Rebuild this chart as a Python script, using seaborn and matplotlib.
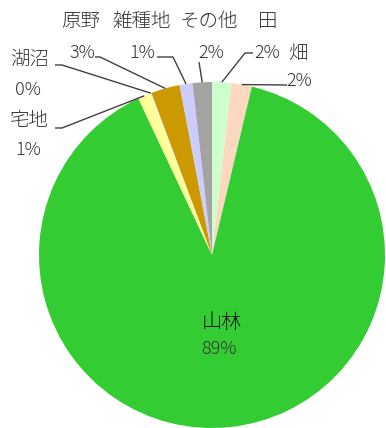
import matplotlib
matplotlib.use("Agg")
import matplotlib.pyplot as plt
import seaborn as sns
import numpy as np

# Land use shares (%), clockwise from 12 o'clock
categories = ["田", "畑", "山林", "宅地", "湖沼", "原野", "雑種地", "その他"]
shares = [1.8, 1.9, 89.3, 1.2, 0.1, 2.7, 1.2, 1.8]
colors = ["#ccffcc", "#fdd8c0", "#33cc33", "#ffff99", "#e8f4ff",
          "#cc9900", "#ccccff", "#a3a3a3"]

sns.set_theme(style="white")
plt.rcParams["font.family"] = ["Noto Sans CJK JP", "DejaVu Sans"]

W, H = 386, 428
fig = plt.figure(figsize=(W / 100, H / 100), dpi=100)
ax = fig.add_axes([0, 0, 1, 1])

cx, cy, r = 212, H - 255, 173
wedges, _ = ax.pie(shares, colors=colors, startangle=90, counterclock=False,
                   center=(cx, cy), radius=r,
                   wedgeprops=dict(linewidth=0))
ax.set_xlim(0, W)
ax.set_ylim(0, H)
ax.set_aspect("equal")
ax.axis("off")

txt = "#333333"
fs = 14
fw = "light"
pct = {c: f"{round(v)}%" for c, v in zip(categories, shares)}

# label layout in pixels from the top: name position, percent position, leader path
layout = {
    "田":    ((268, 21), (267, 53), [(245, 53), (253, 53)]),
    "畑":    ((298, 53), (299, 81), [(287, 85)]),
    "その他": ((209, 21), (211, 53), [(199, 62)]),
    "雑種地": ((142, 21), (142, 53), [(173, 57), (157, 57)]),
    "原野":  ((81, 21), (82, 53), [(100, 57), (95, 57)]),
    "湖沼":  ((30, 59), (28, 90), [(62, 65), (55, 65)]),
    "宅地":  ((29, 120), (28, 150), [(62, 128), (55, 128)]),
}

for w, cat in zip(wedges, categories):
    if cat == "山林":
        ax.text(cx + 10, H - 322, cat, ha="center", va="center",
                fontsize=fs + 0.5, fontweight=fw, color="#111111")
        ax.text(cx + 7, H - 349, pct[cat], ha="center", va="center",
                fontsize=fs - 1, fontweight=fw, color=txt)
        continue
    (nx, ny), (px, py), path = layout[cat]
    mid = np.deg2rad((w.theta1 + w.theta2) / 2)
    ax_pt = (cx + r * np.cos(mid), cy + r * np.sin(mid))
    xs = [ax_pt[0]] + [p[0] for p in path]
    ys = [ax_pt[1]] + [H - p[1] for p in path]
    ax.plot(xs, ys, color="#404040", lw=1.0, solid_capstyle="butt")
    ax.text(nx, H - ny, cat, ha="center", va="center", fontsize=fs,
            fontweight=fw, color=txt)
    ax.text(px, H - py, pct[cat], ha="center", va="center",
            fontsize=fs - 1, fontweight=fw, color=txt)

fig.savefig("out.png", dpi=100, facecolor="white")
